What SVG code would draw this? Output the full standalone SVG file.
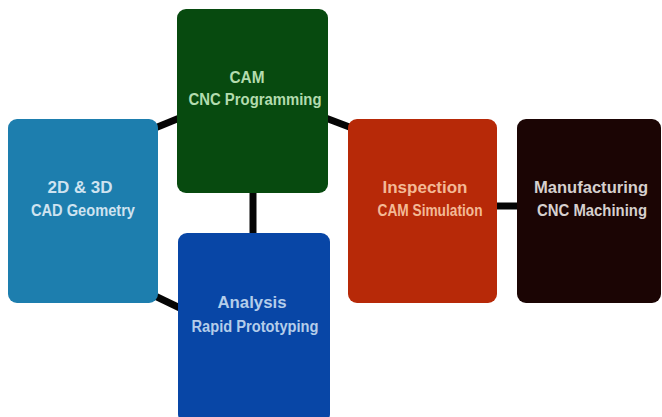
<svg xmlns="http://www.w3.org/2000/svg" width="662" height="417" viewBox="0 0 662 417">
<style>
.box{stroke:none}
.t1{font-family:"Liberation Sans",Arial,sans-serif;font-size:16px;font-weight:bold;text-anchor:middle}
.t2{font-family:"Liberation Sans",Arial,sans-serif;font-size:16px;font-weight:bold;text-anchor:middle}
.conn{stroke:#050505;stroke-width:7;fill:none}
</style>
<rect width="662" height="417" fill="#ffffff"/>
<g id="connectors">
<line class="conn" x1="155" y1="128" x2="182" y2="117"/>
<line class="conn" x1="323" y1="117" x2="352" y2="128"/>
<line class="conn" x1="253" y1="190" x2="253" y2="236"/>
<line class="conn" x1="155" y1="296" x2="182" y2="309"/>
<line class="conn" x1="494" y1="206" x2="520" y2="206"/>
</g>
<g id="node-cad">
<rect class="box" x="8" y="119" width="150" height="184" rx="9" fill="#1d7eae"/>
<text class="t1" x="80" y="193" fill="#cfe3f0" textLength="65" lengthAdjust="spacingAndGlyphs">2D &amp; 3D</text>
<text class="t2" x="83" y="216" fill="#cfe3f0" textLength="104" lengthAdjust="spacingAndGlyphs">CAD Geometry</text>
</g>
<g id="node-cam">
<rect class="box" x="177" y="9" width="151" height="184" rx="9" fill="#074a0f"/>
<text class="t1" x="247" y="83" fill="#b3dcae" textLength="35" lengthAdjust="spacingAndGlyphs">CAM</text>
<text class="t2" x="255" y="105" fill="#b3dcae" textLength="133" lengthAdjust="spacingAndGlyphs">CNC Programming</text>
</g>
<g id="node-analysis">
<rect class="box" x="178" y="233" width="152" height="190" rx="9" fill="#0846a6"/>
<text class="t1" x="252" y="308" fill="#b4cdea" textLength="69" lengthAdjust="spacingAndGlyphs">Analysis</text>
<text class="t2" x="255" y="332" fill="#b4cdea" textLength="127" lengthAdjust="spacingAndGlyphs">Rapid Prototyping</text>
</g>
<g id="node-inspection">
<rect class="box" x="348" y="119" width="149" height="184" rx="9" fill="#b72908"/>
<text class="t1" x="425" y="193" fill="#f3b996" textLength="85" lengthAdjust="spacingAndGlyphs">Inspection</text>
<text class="t2" x="430" y="216" fill="#f3b996" textLength="105" lengthAdjust="spacingAndGlyphs">CAM Simulation</text>
</g>
<g id="node-manufacturing">
<rect class="box" x="517" y="119" width="144" height="184" rx="9" fill="#1b0504"/>
<text class="t1" x="591" y="193" fill="#d6d0ce" textLength="114" lengthAdjust="spacingAndGlyphs">Manufacturing</text>
<text class="t2" x="592" y="216" fill="#d6d0ce" textLength="110" lengthAdjust="spacingAndGlyphs">CNC Machining</text>
</g>
</svg>
